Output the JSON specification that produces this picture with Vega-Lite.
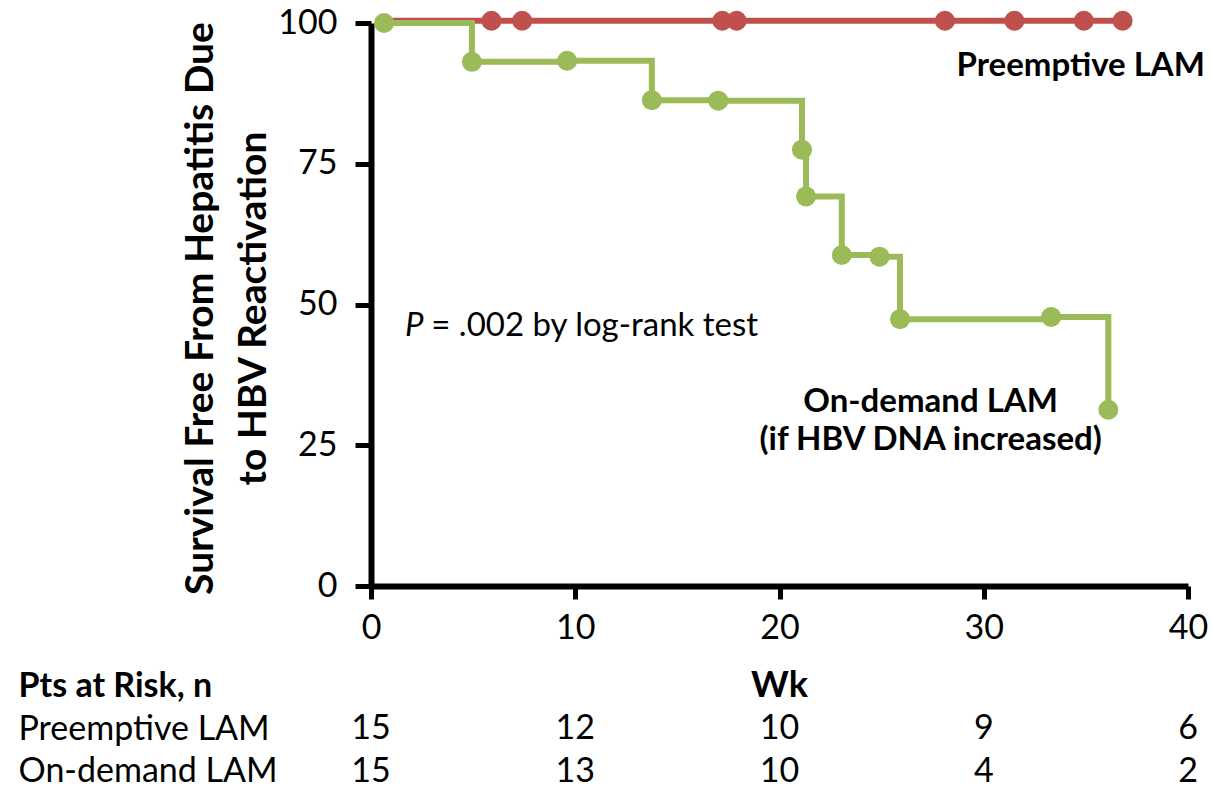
{
  "$schema": "https://vega.github.io/schema/vega-lite/v6.json",
  "background": "white",
  "padding": {"left": 18, "top": 6, "right": 0, "bottom": 0},
  "config": {"view": {"stroke": null}, "font": "Lato"},
  "spacing": 20,
  "datasets": {
    "km": [
      {"group": "Preemptive LAM", "week": 0.64, "survival": 100.4, "marker": false},
      {"group": "Preemptive LAM", "week": 5.9, "survival": 100.4, "marker": true},
      {"group": "Preemptive LAM", "week": 7.4, "survival": 100.4, "marker": true},
      {"group": "Preemptive LAM", "week": 17.2, "survival": 100.4, "marker": true},
      {"group": "Preemptive LAM", "week": 17.9, "survival": 100.4, "marker": true},
      {"group": "Preemptive LAM", "week": 28.1, "survival": 100.4, "marker": true},
      {"group": "Preemptive LAM", "week": 31.5, "survival": 100.4, "marker": true},
      {"group": "Preemptive LAM", "week": 34.9, "survival": 100.4, "marker": true},
      {"group": "Preemptive LAM", "week": 36.8, "survival": 100.4, "marker": true},
      {"group": "On-demand LAM", "week": 0.64, "survival": 100, "marker": true},
      {"group": "On-demand LAM", "week": 4.94, "survival": 93.1, "marker": true},
      {"group": "On-demand LAM", "week": 9.6, "survival": 93.3, "marker": true},
      {"group": "On-demand LAM", "week": 13.75, "survival": 86.3, "marker": true},
      {"group": "On-demand LAM", "week": 17.0, "survival": 86.2, "marker": true},
      {"group": "On-demand LAM", "week": 21.1, "survival": 77.5, "marker": true},
      {"group": "On-demand LAM", "week": 21.3, "survival": 69.2, "marker": true},
      {"group": "On-demand LAM", "week": 23.05, "survival": 58.8, "marker": true},
      {"group": "On-demand LAM", "week": 24.9, "survival": 58.5, "marker": true},
      {"group": "On-demand LAM", "week": 25.9, "survival": 47.4, "marker": true},
      {"group": "On-demand LAM", "week": 33.3, "survival": 47.8, "marker": true},
      {"group": "On-demand LAM", "week": 36.1, "survival": 31.3, "marker": true}
    ],
    "labels": [
      {"week": 34.75, "survival": 90.6, "label": "Preemptive LAM"},
      {"week": 27.4, "survival": 30.9, "label": "On-demand LAM"},
      {"week": 27.4, "survival": 24.2, "label": "(if HBV DNA increased)"}
    ],
    "risk": [
      {"row": "Preemptive LAM", "week": 0, "n": "15"},
      {"row": "Preemptive LAM", "week": 10, "n": "12"},
      {"row": "Preemptive LAM", "week": 20, "n": "10"},
      {"row": "Preemptive LAM", "week": 30, "n": "9"},
      {"row": "Preemptive LAM", "week": 40, "n": "6"},
      {"row": "On-demand LAM", "week": 0, "n": "15"},
      {"row": "On-demand LAM", "week": 10, "n": "13"},
      {"row": "On-demand LAM", "week": 20, "n": "10"},
      {"row": "On-demand LAM", "week": 30, "n": "4"},
      {"row": "On-demand LAM", "week": 40, "n": "2"}
    ],
    "wk": [
      {"row": "Pts at Risk, n", "week": 20, "label": "Wk"}
    ]
  },
  "vconcat": [
    {
      "width": 817,
      "height": 563,
      "layer": [
        {
          "data": {"name": "km"},
          "mark": {"type": "line", "interpolate": "step-after", "strokeWidth": 6, "clip": false},
          "encoding": {
            "x": {
              "field": "week", "type": "quantitative",
              "scale": {"domain": [0, 40], "nice": false},
              "axis": {
                "values": [0, 10, 20, 30, 40], "title": null, "grid": false,
                "domainColor": "black", "domainWidth": 6,
                "tickColor": "black", "tickWidth": 5, "tickSize": 13,
                "labelFont": "Lato", "labelFontSize": 34, "labelColor": "black",
                "labelPadding": 12, "labelFlush": false
              }
            },
            "y": {
              "field": "survival", "type": "quantitative",
              "scale": {"domain": [0, 100], "nice": false},
              "axis": {
                "values": [0, 25, 50, 75, 100], "grid": false,
                "domainColor": "black", "domainWidth": 6,
                "tickColor": "black", "tickWidth": 5, "tickSize": 16,
                "labelFont": "Lato", "labelFontSize": 34, "labelColor": "black",
                "labelPadding": 18, "labelFlush": false,
                "title": ["Survival Free From Hepatitis Due", "to HBV Reactivation"],
                "titleFont": "Lato", "titleFontSize": 39, "titleFontWeight": "bold",
                "titleColor": "black", "titleAngle": -90, "titleX": -171, "titleY": 285,
                "titleAlign": "center", "titleBaseline": "middle", "titleLineHeight": 53,
                "titleLimit": 700
              }
            },
            "color": {
              "field": "group", "type": "nominal",
              "scale": {"domain": ["Preemptive LAM", "On-demand LAM"], "range": ["#C0504D", "#9BBB59"]},
              "legend": null
            }
          }
        },
        {
          "data": {"name": "km"},
          "transform": [{"filter": "datum.marker"}],
          "mark": {"type": "circle", "size": 400, "opacity": 1, "clip": false},
          "encoding": {
            "x": {"field": "week", "type": "quantitative"},
            "y": {"field": "survival", "type": "quantitative"},
            "color": {"field": "group", "type": "nominal", "legend": null}
          }
        },
        {
          "data": {"name": "labels"},
          "mark": {"type": "text", "font": "Lato", "fontSize": 33, "fontWeight": "bold", "color": "black", "align": "center", "baseline": "alphabetic"},
          "encoding": {
            "x": {"field": "week", "type": "quantitative"},
            "y": {"field": "survival", "type": "quantitative"},
            "text": {"field": "label", "type": "nominal"}
          }
        },
        {
          "data": {"values": [{"week": 1.66, "survival": 44.4, "label": "P"}]},
          "mark": {"type": "text", "font": "Lato", "fontSize": 33, "fontStyle": "italic", "color": "black", "align": "left", "baseline": "alphabetic"},
          "encoding": {
            "x": {"field": "week", "type": "quantitative"},
            "y": {"field": "survival", "type": "quantitative"},
            "text": {"field": "label", "type": "nominal"}
          }
        },
        {
          "data": {"values": [{"week": 2.95, "survival": 44.4, "label": "= .002 by log-rank test"}]},
          "mark": {"type": "text", "font": "Lato", "fontSize": 33, "color": "black", "align": "left", "baseline": "alphabetic"},
          "encoding": {
            "x": {"field": "week", "type": "quantitative"},
            "y": {"field": "survival", "type": "quantitative"},
            "text": {"field": "label", "type": "nominal"}
          }
        }
      ]
    },
    {
      "width": 817,
      "height": 128,
      "layer": [
        {
          "data": {"name": "risk"},
          "mark": {"type": "text", "font": "Lato", "fontSize": 34, "color": "black", "align": "center", "baseline": "middle"},
          "encoding": {
            "x": {"field": "week", "type": "quantitative", "scale": {"domain": [0, 40], "nice": false}, "axis": null},
            "y": {
              "field": "row", "type": "nominal",
              "scale": {"domain": ["Pts at Risk, n", "Preemptive LAM", "On-demand LAM"]},
              "axis": {
                "domain": false, "ticks": false, "title": null,
                "labelAlign": "left", "labelPadding": 353, "labelLimit": 400,
                "labelFont": "Lato", "labelFontSize": 34, "labelColor": "black",
                "labelFontWeight": {"condition": {"test": "datum.value === 'Pts at Risk, n'", "value": "bold"}, "value": "normal"}
              }
            },
            "text": {"field": "n", "type": "nominal"}
          }
        },
        {
          "data": {"name": "wk"},
          "mark": {"type": "text", "font": "Lato", "fontSize": 36, "fontWeight": "bold", "color": "black", "align": "center", "baseline": "middle"},
          "encoding": {
            "x": {"field": "week", "type": "quantitative"},
            "y": {"field": "row", "type": "nominal"},
            "text": {"field": "label", "type": "nominal"}
          }
        }
      ]
    }
  ]
}
